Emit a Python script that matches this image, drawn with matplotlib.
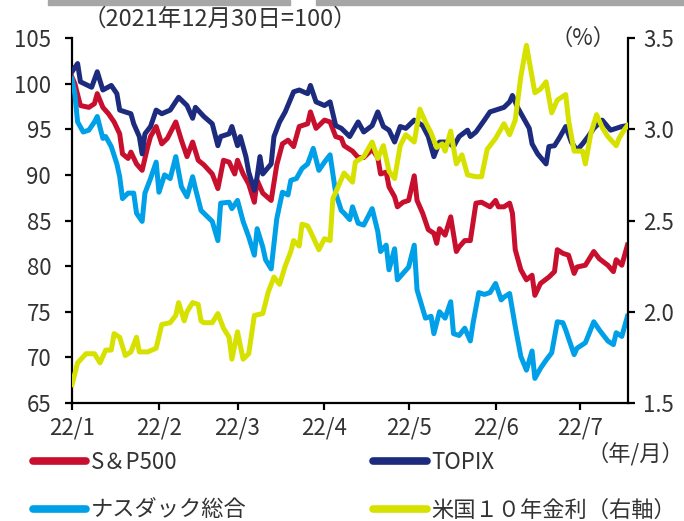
import matplotlib
matplotlib.use("Agg")
import matplotlib.pyplot as plt
from matplotlib.lines import Line2D
from matplotlib.patches import Rectangle
import pandas as pd

plt.rcParams['font.family'] = ['Noto Sans CJK JP', 'DejaVu Sans']

# ---- data (days since 2022-01-01, index 2021/12/30 = 100) ----
base_date = "2022-01-01"

sp_days = [0, 1, 3, 6, 8, 9, 11, 13, 15, 17, 18, 20, 21, 23, 25, 27, 28, 30, 32, 34, 37, 39, 41, 43, 45,
           47, 50, 52, 54, 56, 58, 59, 61, 63, 65, 66, 68, 71, 73, 75, 77, 79, 81, 84, 85, 87, 90, 92, 94, 96,
           97, 100, 102, 104, 107, 109, 110, 112, 113, 115, 116, 118, 120, 122, 123, 125, 127, 129, 130, 131,
           133, 135, 137, 138, 140, 142, 144, 146, 149, 151, 152, 154, 156, 157, 158, 160, 162, 164, 165, 167,
           170, 172, 173, 175, 177, 179, 180, 183, 186, 188, 191, 193, 194, 196, 198]
sp500 = [100.7, 100.0, 97.6, 97.4, 97.8, 98.9, 97.4, 96.7, 95.8, 94.5, 92.3, 91.8, 92.5, 91.2, 90.5, 93.1,
         94.2, 95.3, 93.4, 94.0, 95.8, 93.8, 92.0, 93.6, 91.6,
         91.1, 90.1, 88.5, 91.6, 91.4, 90.1, 91.6, 90.1, 89.0, 87.0, 89.4, 88.0, 87.2, 91.1, 93.4, 93.8, 93.1,
         95.3, 95.6, 96.9, 95.1, 96.0, 95.8, 94.2, 94.0,
         93.2, 92.6, 91.9, 91.9, 92.8, 91.9, 90.1, 90.3, 88.7, 87.6, 86.5, 87.0, 87.2, 89.9, 87.2, 85.8, 84.0,
         83.6, 82.5, 84.1, 83.4, 85.4, 81.6, 82.1, 82.8, 82.8, 86.9, 87.0, 86.5,
         87.2, 86.5, 86.5, 86.9, 85.8, 81.8, 79.6, 78.5, 79.0, 76.8, 78.1, 78.8, 79.4, 81.8, 81.4, 81.2, 79.2,
         79.9, 80.1, 81.6, 80.8, 80.1, 79.4, 80.7, 80.1, 82.3]

nasdaq_days = [0, 1, 2, 4, 6, 8, 9, 11, 12, 14, 16, 17, 18, 20, 22, 23, 25, 26, 28, 30, 31, 33, 35, 37, 39,
               41, 43, 44, 46, 47, 50, 52, 53, 56, 57, 59, 61, 63, 65, 66, 68, 69, 71, 73, 75, 77, 78, 80, 82,
               84, 86, 88, 90, 92, 94, 96, 97, 99, 100, 102, 104, 107, 109, 110, 112, 113, 115, 116, 118, 120,
               122, 123, 126, 128, 129, 131, 133, 135, 136, 138, 140, 142, 143, 145, 147, 149, 151, 153, 154,
               156, 158, 160, 162, 164, 165, 167, 169, 171, 173, 175, 176, 179, 180, 183, 186, 188, 191, 193,
               194, 196, 198]
nasdaq = [100.5, 98.9, 95.8, 94.7, 94.9, 95.8, 96.4, 94.0, 94.2, 93.1, 91.2, 89.8, 87.4, 88.0, 88.0, 85.8,
          84.9, 88.0, 89.6, 91.4, 88.1, 90.0, 89.6, 92.0, 88.7, 87.6, 89.8, 88.5, 86.1,
          85.8, 84.9, 82.8, 86.9, 87.0, 86.3, 87.2, 84.9, 83.2, 81.2, 84.1, 82.1, 80.7, 79.7, 85.2, 88.1, 87.8,
          89.4, 89.6, 90.7, 91.2, 92.9, 90.5, 91.4, 92.2, 88.0, 86.1,
          85.8, 85.1, 86.5, 84.7, 84.5, 86.3, 83.8, 81.6, 82.3, 79.6, 81.9, 78.5, 79.2, 79.9, 82.3, 77.4, 74.3,
          74.5, 72.6, 75.0, 74.3, 76.1, 72.6, 72.4, 73.2, 71.8, 73.8, 77.1, 76.9, 77.1,
          78.1, 76.3, 76.6, 77.0, 73.4, 70.1, 68.6, 70.7, 67.7, 68.8, 69.7, 70.5, 73.9, 73.8, 73.0, 70.3, 71.0,
          71.6, 73.9, 73.0, 71.8, 71.4, 72.7, 72.3, 74.5]

topix_days = [0, 2, 3, 7, 9, 11, 14, 16, 17, 19, 21, 22, 24, 25, 26, 28, 30, 32, 35, 38, 41, 43, 44, 47,
              50, 52, 53, 56, 57, 59, 60, 62, 63, 65, 66, 67, 68, 71, 72, 74, 76, 79, 81, 84, 85, 87, 90, 92,
              94, 96, 99, 102, 104, 107, 109, 111, 113, 115, 117, 119, 120, 122, 125, 127, 129, 131, 134, 136,
              138, 141, 142, 144, 147, 149, 151, 154, 156, 157, 159, 161, 163, 164, 166, 169, 170, 172, 174,
              176, 178, 180, 182, 184, 186, 189, 192, 194, 196, 198]
topix = [101.3, 102.2, 100.2, 99.6, 101.3, 99.3, 99.8, 98.9, 97.1, 96.9, 96.7, 95.6, 94.2, 92.3, 94.5, 95.3,
         97.1, 96.7, 97.1, 98.5, 97.6, 96.2, 97.4, 96.4,
         95.6, 93.2, 94.2, 94.5, 95.3, 93.2, 94.2, 92.0, 90.3, 88.3, 89.8, 92.0, 90.1, 91.2, 94.2, 95.8, 96.9,
         99.1, 99.3, 98.9, 99.8, 98.0, 97.6, 98.0, 95.4, 95.1,
         94.2, 95.8, 94.7, 95.4, 96.9, 95.3, 94.9, 93.6, 95.3, 95.1, 95.4, 96.0, 95.4, 94.2, 92.0, 93.6, 93.6,
         93.1, 94.2, 94.9, 94.2, 94.7, 96.0, 96.9,
         97.1, 97.4, 98.0, 98.7, 97.3, 96.2, 95.1, 93.4, 92.3, 91.2, 93.1, 93.2, 94.2, 95.3, 93.6, 92.7, 93.4,
         94.2, 95.1, 96.0, 94.9, 95.1, 95.3, 95.4]

ust_days = [0, 2, 5, 8, 10, 12, 14, 15, 17, 19, 21, 23, 24, 27, 30, 32, 35, 37, 38, 40, 41, 43, 45, 46, 47,
            50, 52, 54, 56, 57, 59, 61, 63, 65, 68, 70, 72, 74, 76, 78, 79, 81, 82, 84, 85, 88, 90, 92, 93,
            95, 97, 100, 101, 104, 107, 109, 111, 113, 115, 117, 119, 122, 124, 126, 128, 130, 132, 133, 135,
            137, 139, 141, 144, 146, 148, 151, 154, 156, 158, 160, 162, 165, 167, 169, 171, 173, 176, 177,
            179, 182, 183, 185, 187, 189, 191, 194, 195, 197, 198]
ust10y = [1.60, 1.72, 1.77, 1.77, 1.72, 1.79, 1.79, 1.88, 1.86, 1.76, 1.78, 1.86, 1.78, 1.78, 1.80, 1.93,
          1.94, 1.98, 2.05, 1.95, 2.00, 2.05, 2.04, 1.95, 1.94,
          1.94, 1.99, 1.91, 1.86, 1.74, 1.89, 1.74, 1.77, 1.98, 1.99, 2.11, 2.19, 2.15, 2.25, 2.33, 2.39, 2.36,
          2.48, 2.47, 2.44, 2.34, 2.40, 2.39, 2.62, 2.69, 2.76,
          2.71, 2.82, 2.85, 2.93, 2.84, 2.91, 2.77, 2.73, 2.91, 2.97, 2.93, 3.11, 3.04, 2.98, 2.90, 2.92, 2.88,
          2.99, 2.81, 2.86, 2.75, 2.74, 2.74, 2.89,
          2.95, 3.03, 2.97, 3.05, 3.29, 3.46, 3.20, 3.22, 3.26, 3.09, 3.16, 3.19, 3.05, 2.88, 2.88, 2.81, 2.98,
          3.08, 3.01, 2.96, 2.91, 2.95, 3.00, 3.02]

month_ticks = ["2022-01-01", "2022-02-01", "2022-03-01", "2022-04-01", "2022-05-01", "2022-06-01", "2022-07-01"]
month_labels = ["22/1", "22/2", "22/3", "22/4", "22/5", "22/6", "22/7"]
left_ticks = [65, 70, 75, 80, 85, 90, 95, 100, 105]
right_ticks = [1.5, 2.0, 2.5, 3.0, 3.5]

labels = ["S＆P500", "ナスダック総合", "TOPIX", "米国１０年金利（右軸）"]
colors = {"sp": "#C8102E", "nasdaq": "#00A0E9", "topix": "#1D2B7E", "ust": "#D7E100"}


def to_dates(days):
    return pd.Timestamp(base_date) + pd.to_timedelta(days, unit="D")


# ---- figure ----
W, H = 684, 521
fig = plt.figure(figsize=(W / 100, H / 100), dpi=100)
ax = fig.add_axes([72 / W, 1 - 403 / H, (628 - 72) / W, (403 - 38) / H])
ax2 = ax.twinx()

lw = 3.6
ax.plot(to_dates(sp_days), sp500, color=colors["sp"], lw=lw, solid_joinstyle="round", zorder=3)
ax.plot(to_dates(nasdaq_days), nasdaq, color=colors["nasdaq"], lw=lw, solid_joinstyle="round", zorder=3)
ax.plot(to_dates(topix_days), topix, color=colors["topix"], lw=lw, solid_joinstyle="round", zorder=4)
ax2.plot(to_dates(ust_days), ust10y, color=colors["ust"], lw=lw, solid_joinstyle="round", zorder=3)

x0 = pd.Timestamp(base_date)
x1 = x0 + pd.Timedelta(days=198.2)
ax.set_xlim(x0, x1)
ax.set_ylim(65, 105)
ax2.set_ylim(1.5, 3.5)

ax.set_xticks(pd.to_datetime(month_ticks))
ax.set_xticklabels(month_labels)
ax.set_yticks(left_ticks)
ax.set_yticklabels([str(v) for v in left_ticks])
ax2.set_yticks(right_ticks)
ax2.set_yticklabels([f"{v:.1f}" for v in right_ticks])

fs = 16
txt = "#333333"
for a in (ax, ax2):
    a.spines["top"].set_visible(False)
    for s in a.spines.values():
        s.set_linewidth(1.6)
        s.set_color("black")
ax.spines["right"].set_visible(False)
ax2.spines["left"].set_visible(False)
ax2.spines["bottom"].set_visible(False)
ax.tick_params(axis="y", direction="out", length=5, width=1.6, labelsize=fs, pad=10, colors="black",
               labelcolor=txt)
ax.tick_params(axis="x", direction="out", length=5, width=1.6, labelsize=fs, pad=5, colors="black",
               labelcolor=txt)
ax2.tick_params(axis="y", direction="out", length=5, width=1.6, labelsize=fs, pad=6, colors="black",
                labelcolor=txt)

# annotations
fig.text(83 / W, 1 - 8 / H, "（2021年12月30日=100）", ha="left", va="top", fontsize=17, color=txt)
fig.text(616 / W, 1 - 27 / H, "（%）", ha="right", va="top", fontsize=fs, color=txt)
fig.text(684 / W, 1 - 442 / H, "（年/月）", ha="right", va="top", fontsize=fs, color=txt)

# grey strips at the top
fig.patches.append(Rectangle((48 / W, 1 - 5 / H), (290 - 48) / W, 5 / H, transform=fig.transFigure,
                             color="#A6A6A6", zorder=0))
fig.patches.append(Rectangle((316 / W, 1 - 5 / H), (684 - 316) / W, 5 / H, transform=fig.transFigure,
                             color="#A6A6A6", zorder=0))

handles = [Line2D([], [], color=colors[k], lw=5.5, solid_capstyle="round") for k in ("sp", "nasdaq", "topix", "ust")]
fig.legend(handles, labels, loc="upper left", bbox_to_anchor=(33 / W, 1 - 451 / H), ncol=2, frameon=False,
           fontsize=fs, handlelength=2.4, handletextpad=0.2, columnspacing=5.7, labelspacing=1.1,
           borderpad=0, borderaxespad=0, labelcolor=txt)

fig.savefig("out.png", dpi=100)
